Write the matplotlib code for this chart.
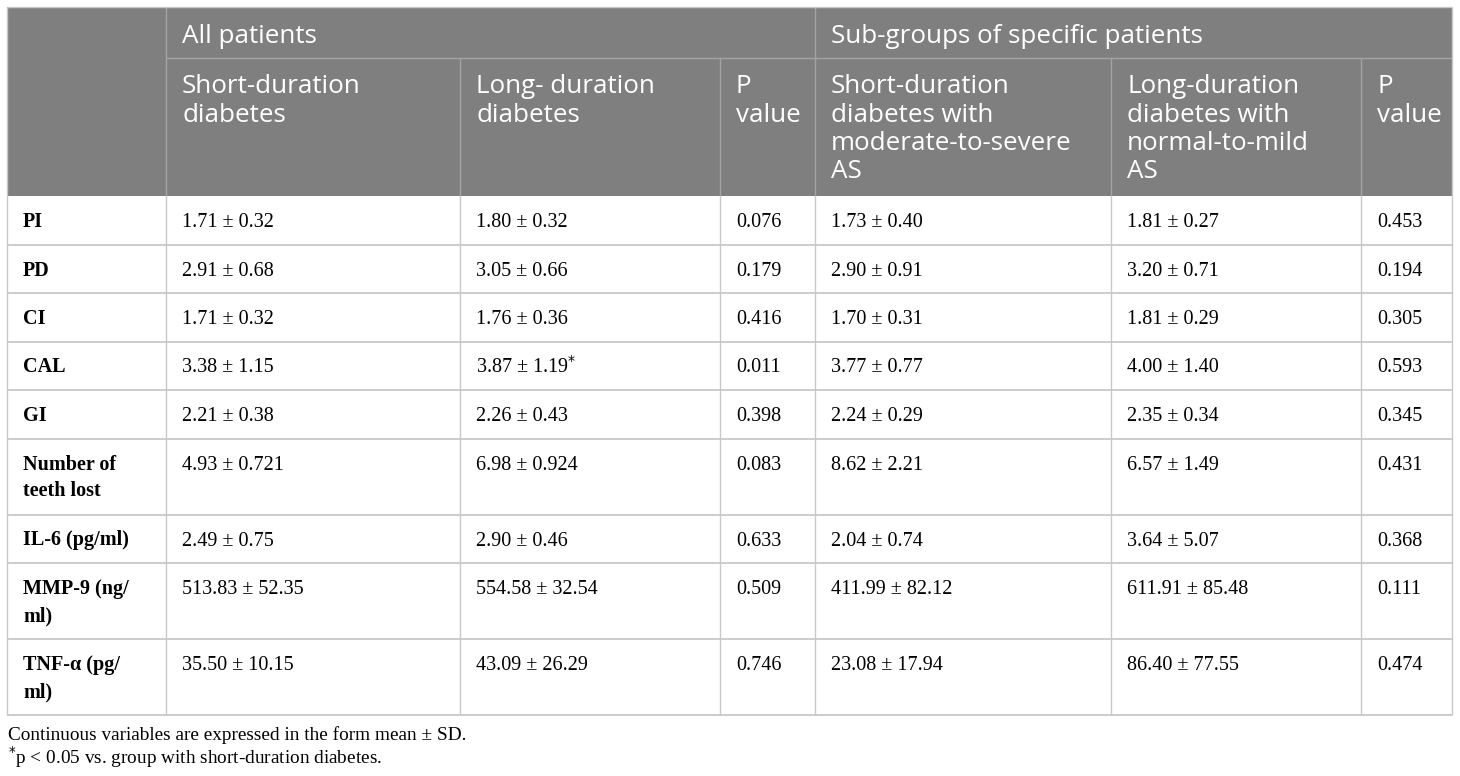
import matplotlib.pyplot as plt
from matplotlib.patches import Rectangle

# table content
group_headers = ["All patients", "Sub-groups of specific patients"]
col_headers = ["Short-duration\ndiabetes", "Long- duration\ndiabetes", "P\nvalue",
               "Short-duration\ndiabetes with\nmoderate-to-severe\nAS",
               "Long-duration\ndiabetes with\nnormal-to-mild\nAS", "P\nvalue"]
row_labels = ["PI", "PD", "CI", "CAL", "GI", "Number of\nteeth lost",
              "IL-6 (pg/ml)", "MMP-9 (ng/\nml)", "TNF-\u03b1 (pg/\nml)"]
short_all = ["1.71 ± 0.32", "2.91 ± 0.68", "1.71 ± 0.32", "3.38 ± 1.15", "2.21 ± 0.38",
             "4.93 ± 0.721", "2.49 ± 0.75", "513.83 ± 52.35", "35.50 ± 10.15"]
long_all = ["1.80 ± 0.32", "3.05 ± 0.66", "1.76 ± 0.36", "3.87 ± 1.19*", "2.26 ± 0.43",
            "6.98 ± 0.924", "2.90 ± 0.46", "554.58 ± 32.54", "43.09 ± 26.29"]
p_all = ["0.076", "0.179", "0.416", "0.011", "0.398", "0.083", "0.633", "0.509", "0.746"]
short_sub = ["1.73 ± 0.40", "2.90 ± 0.91", "1.70 ± 0.31", "3.77 ± 0.77", "2.24 ± 0.29",
             "8.62 ± 2.21", "2.04 ± 0.74", "411.99 ± 82.12", "23.08 ± 17.94"]
long_sub = ["1.81 ± 0.27", "3.20 ± 0.71", "1.81 ± 0.29", "4.00 ± 1.40", "2.35 ± 0.34",
            "6.57 ± 1.49", "3.64 ± 5.07", "611.91 ± 85.48", "86.40 ± 77.55"]
p_sub = ["0.453", "0.194", "0.305", "0.593", "0.345", "0.431", "0.368", "0.111", "0.474"]
footnotes = ["Continuous variables are expressed in the form mean \u00b1 SD.",
             "*p < 0.05 vs. group with short-duration diabetes."]

W, H = 1460, 776
fig = plt.figure(figsize=(W / 100, H / 100), dpi=100)
ax = fig.add_axes([0, 0, 1, 1])
ax.set_xlim(0, W)
ax.set_ylim(H, 0)
ax.axis("off")

HEAD = "#7f7f7f"
GRID = "#c8c8c8"
HGRID = "#a3a3a3"
SERIF = "Liberation Serif"

# geometry (pixels)
col_x = [7, 166, 460, 720, 815, 1111, 1361, 1452]
top, h1, h2 = 7, 58, 196
pad = 16


def lines_at(x, y, txt, step, **kw):
    # one text call per line so baselines are exact
    for k, line in enumerate(txt.split("\n")):
        ax.text(x, y + k * step, line, va="baseline", **kw)


# row edges from number of lines
row_y = [h2]
for lab in row_labels:
    n = lab.count("\n") + 1
    row_y.append(row_y[-1] + (48.5 if n == 1 else 76))

# header background
ax.add_patch(Rectangle((col_x[0], top), col_x[-1] - col_x[0], h2 - top, color=HEAD, lw=0))

# header lines
ax.vlines(col_x[1], top, h2, color=HGRID, lw=1)
ax.vlines(col_x[4], top, h2, color=HGRID, lw=1)
for c in [2, 3, 5, 6]:
    ax.vlines(col_x[c], h1, h2, color=HGRID, lw=1)
ax.hlines(h1, col_x[1], col_x[-1], color=HGRID, lw=1)

hfont = dict(family="Open Sans", fontsize=18.7, color="white")
ax.text(col_x[1] + pad, 43, group_headers[0], va="baseline", **hfont)
ax.text(col_x[4] + pad, 43, group_headers[1], va="baseline", **hfont)
for i, txt in enumerate(col_headers):
    lines_at(col_x[i + 1] + pad, 93, txt, 28.5, **hfont)

# body grid
ax.hlines(row_y[1:], col_x[0], col_x[-1], color=GRID, lw=1.3)
ax.vlines(col_x, h2, row_y[-1], color=GRID, lw=1)
ax.vlines([col_x[0], col_x[-1]], top, h2, color=GRID, lw=1)
ax.hlines(top, col_x[0], col_x[-1], color=GRID, lw=1)

columns = [short_all, long_all, p_all, short_sub, long_sub, p_sub]
for r, lab in enumerate(row_labels):
    base = row_y[r] + 31
    lines_at(col_x[0] + pad, base, lab, 27, family=SERIF, fontweight="bold", fontsize=14.5)
    for c, vals in enumerate(columns):
        txt = vals[r]
        if txt.endswith("*"):
            txt = txt[:-1] + "$^{*}$"
        ax.text(col_x[c + 1] + pad, base, txt, va="baseline", family=SERIF, fontsize=14.5)

ax.text(col_x[0] + 1, 740, footnotes[0], va="baseline", family=SERIF, fontsize=13.9)
ax.text(col_x[0] + 1, 764, "$^{*}$" + footnotes[1][1:], va="baseline",
        family=SERIF, fontsize=13.9)

fig.savefig("out.png", dpi=100)
